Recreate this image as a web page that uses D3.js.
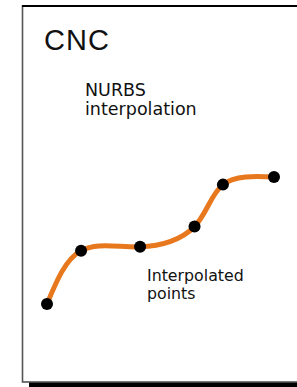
<!DOCTYPE html>
<html>
<head>
<meta charset="utf-8">
<script src="https://cdn.jsdelivr.net/npm/d3@7"></script>
<style>
  html, body { margin: 0; padding: 0; background: #fff; }
  svg { display: block; }
  text { font-family: "Liberation Sans", Arial, sans-serif; fill: #111; }
  text.lbl { font-family: "DejaVu Sans", sans-serif; }
</style>
</head>
<body>
<div id="chart"></div>
<script>
// ---- Data: interpolated points along the NURBS curve ----
const pointX = [0, 1.5, 4.1, 6.5, 7.75, 10];
const pointY = [0, 4.2, 4.5, 6.1, 9.4, 10];
const titleText = "CNC";
const curveLabel = ["NURBS", "interpolation"];
const pointLabel = ["Interpolated", "points"];

const W = 297, H = 387;
const svg = d3.select("#chart").append("svg").attr("width", W).attr("height", H);

// frame with drop shadow (runs off the right edge)
svg.append("rect").attr("x", 29).attr("y", 12).attr("width", 300).attr("height", 376).attr("fill", "#000");
svg.append("rect").attr("x", 22.5).attr("y", 6).attr("width", 300).attr("height", 376)
  .attr("fill", "#fff").attr("stroke", "#555").attr("stroke-width", 1.6);
svg.append("line").attr("x1", 22).attr("x2", W).attr("y1", 6).attr("y2", 6)
  .attr("stroke", "#000").attr("stroke-width", 2);

// scales
const x = d3.scaleLinear().domain([0, 10]).range([47, 274]);
const y = d3.scaleLinear().domain([0, 10]).range([304, 177]);

const pts = pointX.map((d, i) => ({ x: pointX[i], y: pointY[i] }));

const line = d3.line()
  .x(d => x(d.x))
  .y(d => y(d.y))
  .curve(d3.curveNatural);

svg.append("path")
  .datum(pts)
  .attr("d", line)
  .attr("fill", "none")
  .attr("stroke", "#E8781E")
  .attr("stroke-width", 5)
  .attr("stroke-linecap", "round");

svg.selectAll("circle.pt")
  .data(pts)
  .join("circle")
  .attr("class", "pt")
  .attr("cx", d => x(d.x))
  .attr("cy", d => y(d.y))
  .attr("r", 6)
  .attr("fill", "#000");

// labels
svg.append("text").attr("x", 44).attr("y", 49.5)
  .attr("font-size", 29).attr("letter-spacing", 1)
  .text(titleText);

svg.append("text").attr("class", "lbl").attr("x", 85).attr("y", 96).attr("font-size", 17.5)
  .selectAll("tspan").data(curveLabel).join("tspan")
  .attr("x", 85).attr("dy", (d, i) => i ? 18.5 : 0)
  .text(d => d);

svg.append("text").attr("class", "lbl").attr("x", 147).attr("y", 280.5).attr("font-size", 15.8)
  .selectAll("tspan").data(pointLabel).join("tspan")
  .attr("x", 147).attr("dy", (d, i) => i ? 18.5 : 0)
  .text(d => d);
</script>
</body>
</html>
